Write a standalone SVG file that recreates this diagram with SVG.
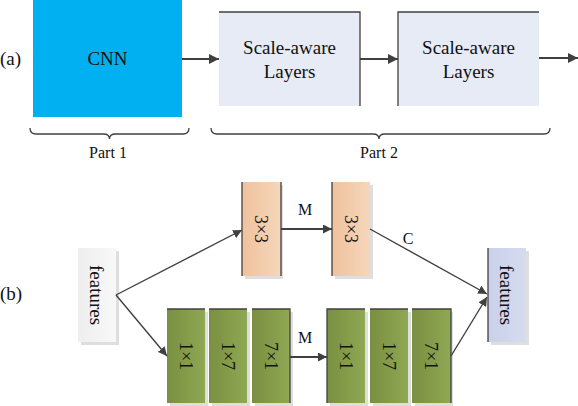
<svg xmlns="http://www.w3.org/2000/svg" width="578" height="406" viewBox="0 0 578 406">
<defs>
<style>
.t{font-family:"Liberation Serif","Times New Roman",serif;fill:#111}
.edge{stroke:#404040;stroke-width:1.3;fill:none}
.conn{stroke:#404040;fill:none}
.shadow{fill:#dedede}
</style>
<linearGradient id="gOr" x1="0" y1="0" x2="1" y2="0"><stop offset="0" stop-color="#efc29d"/><stop offset="1" stop-color="#f6d6bb"/></linearGradient>
<linearGradient id="gGr" x1="0" y1="0" x2="1" y2="0"><stop offset="0" stop-color="#7a8f42"/><stop offset="1" stop-color="#8fa852"/></linearGradient>
<linearGradient id="gF1" x1="0" y1="0" x2="1" y2="0"><stop offset="0" stop-color="#eeeeee"/><stop offset="1" stop-color="#f8f8f8"/></linearGradient>
<linearGradient id="gF2" x1="0" y1="0" x2="1" y2="0"><stop offset="0" stop-color="#c9d0e8"/><stop offset="1" stop-color="#d6dcef"/></linearGradient>
<marker id="ah" viewBox="0 0 10 10" refX="10" refY="5" markerWidth="10" markerHeight="10" markerUnits="userSpaceOnUse" orient="auto"><path d="M0,0 L10,5 L0,10 Z" fill="#404040"/></marker>
<marker id="ah2" viewBox="0 0 10 10" refX="10" refY="5" markerWidth="9" markerHeight="9" markerUnits="userSpaceOnUse" orient="auto"><path d="M0,0 L10,5 L0,10 Z" fill="#404040"/></marker>
</defs>

<text class="t" x="0" y="65" font-size="19">(a)</text>
<text class="t" x="0" y="300" font-size="19">(b)</text>

<g id="cnn">
<rect x="33" y="0" width="149" height="117" fill="#00b0f0"/>
<text class="t" x="107.5" y="65" font-size="19" text-anchor="middle">CNN</text>
</g>

<g id="scale1">
<rect x="219" y="12" width="141" height="94" fill="#e6ebf6"/>
<path class="edge" d="M219,12 H360 V106"/>
<text class="t" x="289.5" y="54" font-size="19" text-anchor="middle">Scale-aware</text>
<text class="t" x="289.5" y="78" font-size="19" text-anchor="middle">Layers</text>
</g>

<g id="scale2">
<rect x="398" y="12" width="141" height="94" fill="#e6ebf6"/>
<path class="edge" d="M398,106 V12 H539"/>
<text class="t" x="468.5" y="54" font-size="19" text-anchor="middle">Scale-aware</text>
<text class="t" x="468.5" y="78" font-size="19" text-anchor="middle">Layers</text>
</g>

<g id="brace1">
<path class="edge" d="M30,128 Q30,134 36,134 H103.5 Q109.5,134 109.5,139 Q109.5,134 115.5,134 H183 Q189,134 189,128"/>
<text class="t" x="108" y="158" font-size="16" text-anchor="middle">Part 1</text>
</g>

<g id="brace2">
<path class="edge" d="M211,128 Q211,134 217,134 H373 Q379,134 379,139 Q379,134 385,134 H544 Q550,134 550,128"/>
<text class="t" x="379" y="158" font-size="16" text-anchor="middle">Part 2</text>
</g>

<g id="features1">
<rect class="shadow" x="81" y="251" width="38" height="94"/>
<rect x="78" y="248" width="38" height="94" fill="url(#gF1)"/>
<text class="t" font-size="19" text-anchor="middle" dy="0.35em" transform="translate(97,295) rotate(90)">features</text>
</g>

<g id="conv3x3a">
<rect class="shadow" x="245" y="185" width="38" height="94"/>
<rect x="242" y="182" width="39" height="94" fill="url(#gOr)"/>
<path class="edge" d="M242,182 V276 M281,182 V276"/>
<text class="t" font-size="18" text-anchor="middle" dy="0.35em" transform="translate(261.5,229) rotate(90)">3×3</text>
</g>

<g id="conv3x3b">
<rect class="shadow" x="335" y="185" width="38" height="94"/>
<rect x="332" y="182" width="38" height="94" fill="url(#gOr)"/>
<path class="edge" d="M332,182 V276"/>
<text class="t" font-size="18" text-anchor="middle" dy="0.35em" transform="translate(351,229) rotate(90)">3×3</text>
</g>

<g id="g1x1a">
<rect class="shadow" x="170" y="312" width="38" height="94"/>
<rect x="167" y="309" width="38" height="94" fill="url(#gGr)"/>
<path class="edge" d="M167,309 H205"/>
<text class="t" font-size="18" text-anchor="middle" dy="0.35em" transform="translate(186,356) rotate(90)">1×1</text>
</g>
<g id="g1x7a">
<rect class="shadow" x="212" y="312" width="38" height="94"/>
<rect x="209" y="309" width="38" height="94" fill="url(#gGr)"/>
<path class="edge" d="M209,309 H247"/>
<text class="t" font-size="18" text-anchor="middle" dy="0.35em" transform="translate(228,356) rotate(90)">1×7</text>
</g>
<g id="g7x1a">
<rect class="shadow" x="255" y="312" width="38" height="94"/>
<rect x="252" y="309" width="38" height="94" fill="url(#gGr)"/>
<path class="edge" d="M252,309 H290 V403"/>
<text class="t" font-size="18" text-anchor="middle" dy="0.35em" transform="translate(271,356) rotate(90)">7×1</text>
</g>

<g id="g1x1b">
<rect class="shadow" x="330" y="312" width="38" height="94"/>
<rect x="327" y="309" width="38" height="94" fill="url(#gGr)"/>
<path class="edge" d="M327,403 V309 H365"/>
<text class="t" font-size="18" text-anchor="middle" dy="0.35em" transform="translate(346,356) rotate(90)">1×1</text>
</g>
<g id="g1x7b">
<rect class="shadow" x="373" y="312" width="38" height="94"/>
<rect x="370" y="309" width="38" height="94" fill="url(#gGr)"/>
<path class="edge" d="M370,309 H408"/>
<text class="t" font-size="18" text-anchor="middle" dy="0.35em" transform="translate(389,356) rotate(90)">1×7</text>
</g>
<g id="g7x1b">
<rect class="shadow" x="415" y="312" width="38" height="94"/>
<rect x="412" y="309" width="39" height="94" fill="url(#gGr)"/>
<path class="edge" d="M412,309 H451 V403"/>
<text class="t" font-size="18" text-anchor="middle" dy="0.35em" transform="translate(431.5,356) rotate(90)">7×1</text>
</g>

<g id="features2">
<rect class="shadow" x="491" y="251" width="38" height="94"/>
<rect x="488" y="248" width="38" height="94" fill="url(#gF2)"/>
<path class="edge" d="M488,248 V342"/>
<text class="t" font-size="19" text-anchor="middle" dy="0.35em" transform="translate(507,295) rotate(90)">features</text>
</g>

<g id="connectors">
<line class="conn" stroke-width="2.2" x1="182" y1="59" x2="219" y2="59" marker-end="url(#ah)"/>
<line class="conn" stroke-width="2.2" x1="360" y1="59" x2="398" y2="59" marker-end="url(#ah)"/>
<line class="conn" stroke-width="2.2" x1="539" y1="58" x2="578" y2="58" marker-end="url(#ah)"/>
<line class="conn" stroke-width="1.4" x1="116" y1="295" x2="242" y2="230" marker-end="url(#ah2)"/>
<line class="conn" stroke-width="1.4" x1="116" y1="295" x2="167" y2="356" marker-end="url(#ah2)"/>
<line class="conn" stroke-width="1.8" x1="281" y1="229" x2="332" y2="229" marker-end="url(#ah2)"/>
<line class="conn" stroke-width="1.8" x1="290" y1="357" x2="327" y2="357" marker-end="url(#ah2)"/>
<line class="conn" stroke-width="1.4" x1="370" y1="229" x2="487" y2="294" marker-end="url(#ah2)"/>
<line class="conn" stroke-width="1.4" x1="451" y1="356" x2="487" y2="297" marker-end="url(#ah2)"/>
<text class="t" x="305" y="215" font-size="16" text-anchor="middle">M</text>
<text class="t" x="305" y="343" font-size="16" text-anchor="middle">M</text>
<text class="t" x="408" y="244" font-size="16" text-anchor="middle">C</text>
</g>
</svg>
